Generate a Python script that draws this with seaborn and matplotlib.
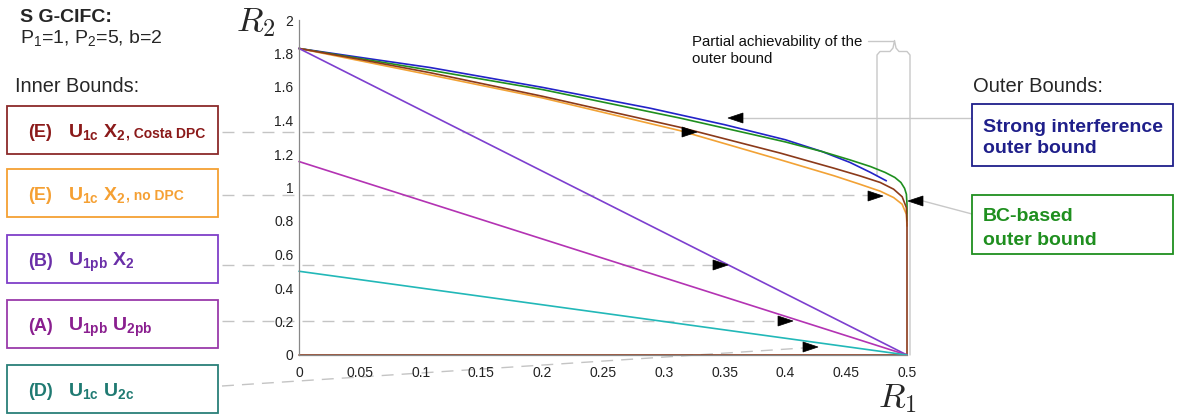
import numpy as np
import pandas as pd
import matplotlib
matplotlib.use("Agg")
import matplotlib.pyplot as plt
import seaborn as sns
from matplotlib.lines import Line2D
from matplotlib.patches import Rectangle, Polygon

# ---------------- data ----------------
r1_strong = [0, 0.05, 0.108, 0.2, 0.289, 0.35, 0.4, 0.43, 0.453, 0.47, 0.483]
r2_strong = [1.83, 1.777, 1.716, 1.598, 1.473, 1.375, 1.285, 1.215, 1.15, 1.09, 1.04]

r1_bc = [0, 0.05, 0.108, 0.2, 0.313, 0.371, 0.4, 0.43, 0.453, 0.47, 0.482, 0.49, 0.495, 0.498, 0.4995, 0.5, 0.5]
r2_bc = [1.83, 1.77, 1.70, 1.585, 1.415, 1.32, 1.272, 1.215, 1.165, 1.125, 1.09, 1.06, 1.03, 0.995, 0.96, 0.90, 0.80]

r1_costa = [0, 0.05, 0.108, 0.2, 0.313, 0.396, 0.44, 0.461, 0.478, 0.489, 0.496, 0.4995, 0.5, 0.5, 0]
r2_costa = [1.83, 1.765, 1.685, 1.545, 1.36, 1.205, 1.115, 1.07, 1.03, 0.99, 0.945, 0.88, 0.786, 0, 0]

r1_nodpc = [0, 0.05, 0.108, 0.2, 0.313, 0.396, 0.44, 0.461, 0.478, 0.489, 0.496, 0.4995, 0.5]
r2_nodpc = [1.83, 1.757, 1.672, 1.535, 1.34, 1.165, 1.07, 1.02, 0.978, 0.94, 0.9, 0.84, 0.77]

r1_B = [0, 0.5]
r2_B = [1.83, 0]
r1_A = [0, 0.5]
r2_A = [1.155, 0]
r1_D = [0, 0.5]
r2_D = [0.5, 0]

x_ticks = [0, 0.05, 0.1, 0.15, 0.2, 0.25, 0.3, 0.35, 0.4, 0.45, 0.5]
x_ticklabels = ["0", "0.05", "0.1", "0.15", "0.2", "0.25", "0.3", "0.35", "0.4", "0.45", "0.5"]
y_ticks = [0, 0.2, 0.4, 0.6, 0.8, 1.0, 1.2, 1.4, 1.6, 1.8, 2.0]
y_ticklabels = ["0", "0.2", "0.4", "0.6", "0.8", "1", "1.2", "1.4", "1.6", "1.8", "2"]

# ---------------- style ----------------
sns.set_style("white")
plt.rcParams['font.family'] = ['Liberation Sans', 'DejaVu Sans']
plt.rcParams['mathtext.fontset'] = 'custom'
plt.rcParams['mathtext.rm'] = 'Liberation Sans'
plt.rcParams['mathtext.it'] = 'Liberation Sans:italic'
plt.rcParams['mathtext.bf'] = 'Liberation Sans:bold'

W, H = 1180, 417
fig = plt.figure(figsize=(W / 100, H / 100), dpi=100)


def P(x, y):
    return (x / W, 1 - y / H)


ax = fig.add_axes([299 / W, 1 - 355 / H, 608 / W, 335 / H])

col_blue = "#2323c8"
col_green = "#1f8f1f"
col_brown = "#8b3a1a"
col_orange = "#f2a235"
col_B = "#7d3fcf"
col_A = "#b333b3"
col_D = "#22b8b8"

lw = 1.2
sns.lineplot(x=r1_strong, y=r2_strong, sort=False, estimator=None, color=col_blue, lw=lw, ax=ax)
sns.lineplot(x=r1_bc, y=r2_bc, sort=False, estimator=None, color=col_green, lw=lw, ax=ax)
sns.lineplot(x=r1_nodpc, y=r2_nodpc, sort=False, estimator=None, color=col_orange, lw=lw, ax=ax)
sns.lineplot(x=r1_costa, y=r2_costa, sort=False, estimator=None, color=col_brown, lw=lw, ax=ax)
sns.lineplot(x=r1_B, y=r2_B, sort=False, estimator=None, color=col_B, lw=lw, ax=ax)
sns.lineplot(x=r1_A, y=r2_A, sort=False, estimator=None, color=col_A, lw=lw, ax=ax)
sns.lineplot(x=r1_D, y=r2_D, sort=False, estimator=None, color=col_D, lw=lw, ax=ax)
for l in ax.lines:
    l.set_clip_on(False)

ax.set_xlim(0, 0.5)
ax.set_ylim(0, 2)
ax.set_xticks(x_ticks)
ax.set_xticklabels(x_ticklabels)
ax.set_yticks(y_ticks)
ax.set_yticklabels(y_ticklabels)
ax.tick_params(direction='in', length=5, width=0.8, color='#888888', labelcolor='#222222',
               labelsize=10)
ax.tick_params(axis='x', pad=8)
ax.tick_params(axis='y', pad=4)
ax.tick_params(axis='both', which='both', top=False, right=False)
for s in ['top', 'right']:
    ax.spines[s].set_visible(False)
for s in ['left', 'bottom']:
    ax.spines[s].set_color('#888888')
    ax.spines[s].set_linewidth(0.9)
ax.set_xlabel("")
ax.set_ylabel("")
ax.set_facecolor('none')

# axis labels (LaTeX-like)
fig.text(*P(236, 31), r"$R_2$", fontsize=25, math_fontfamily='cm', va='baseline', ha='left')
fig.text(*P(878, 407), r"$R_1$", fontsize=25, math_fontfamily='cm', va='baseline', ha='left')

# header texts
fig.text(*P(20, 22), "S G-CIFC:", fontsize=14, fontweight='bold', va='baseline')
fig.text(*P(20, 43), r"P$_1$=1, P$_2$=5, b=2", fontsize=14, va='baseline')
fig.text(*P(15, 92), "Inner Bounds:", fontsize=14.3, va='baseline')
fig.text(*P(973, 92), "Outer Bounds:", fontsize=14.5, va='baseline')


# helper drawing in pixel space
def fline(xs, ys, **kw):
    pts = [P(x, y) for x, y in zip(xs, ys)]
    fig.add_artist(Line2D([p[0] for p in pts], [p[1] for p in pts], transform=fig.transFigure, **kw))


def frect(x0, y0, x1, y1, ec):
    p = P(x0, y1)
    fig.add_artist(Rectangle(p, (x1 - x0) / W, (y1 - y0) / H, transform=fig.transFigure,
                             fill=True, fc='white', ec=ec, lw=1.3))


def farrow(tipx, tipy, direction):
    if direction == 'right':
        pts = [(tipx, tipy), (tipx - 15, tipy - 5), (tipx - 15, tipy + 5)]
    else:
        pts = [(tipx, tipy), (tipx + 15, tipy - 5), (tipx + 15, tipy + 5)]
    fig.add_artist(Polygon([P(*q) for q in pts], closed=True, transform=fig.transFigure,
                           fc='black', ec='black', lw=0.5, zorder=10))


dash_kw = dict(color='#c4c4c4', lw=1.0, ls=(0, (8.6, 5.8)), zorder=0)
solid_kw = dict(color='#c8c8c8', lw=1.0, zorder=0)

# left boxes: (tag, math text, suffix, colour, edge colour, top y)
boxes = [
    ("(E)", r"$\mathbf{U_{1c}\ X_2}$", ", Costa DPC", "#8b1a1a", "#8b2a2a", 106),
    ("(E)", r"$\mathbf{U_{1c}\ X_2}$", ", no DPC", "#f5a033", "#f5a033", 169),
    ("(B)", r"$\mathbf{U_{1pb}\ X_2}$", "", "#6a2fa8", "#7f3fc8", 235),
    ("(A)", r"$\mathbf{U_{1pb}\ U_{2pb}}$", "", "#8a1f8f", "#9a3aaa", 300),
    ("(D)", r"$\mathbf{U_{1c}\ U_{2c}}$", "", "#1f7a72", "#2a7f78", 365),
]
for tag, mt, suf, tc, ec, top in boxes:
    frect(7, top, 218, top + 48, ec)
    base = top + 31
    fig.text(*P(28, base), tag, fontsize=13, fontweight='bold', color=tc, va='baseline')
    fig.text(*P(68, base), mt, fontsize=14, color=tc, va='baseline')
    if suf:
        fig.text(*P(126, base), suf, fontsize=10, fontweight='bold', color=tc, va='baseline')

# connectors from left boxes
fline([222, 683], [132, 132], **dash_kw)
fline([222, 868], [195, 195], **dash_kw)
fline([222, 713], [265, 265], **dash_kw)
fline([222, 778], [321, 321], **dash_kw)
fline([222, 803], [386, 348], **dash_kw)
farrow(697, 132, 'right')
farrow(883, 196, 'right')
farrow(728, 265, 'right')
farrow(793, 321, 'right')
farrow(818, 347, 'right')

# right boxes
frect(972, 104, 1173, 166, "#1f1f8a")
fig.text(*P(983, 132), "Strong interference", fontsize=14, fontweight='bold', color="#1f1f8a", va='baseline')
fig.text(*P(983, 153), "outer bound", fontsize=14, fontweight='bold', color="#1f1f8a", va='baseline')
frect(972, 195, 1173, 254, "#1f8f1f")
fig.text(*P(983, 221), "BC-based", fontsize=14, fontweight='bold', color="#1f8f1f", va='baseline')
fig.text(*P(983, 245), "outer bound", fontsize=14, fontweight='bold', color="#1f8f1f", va='baseline')

fline([972, 742], [118, 118], **solid_kw)
farrow(728, 118, 'left')
fline([972, 923], [214, 201], **solid_kw)
farrow(908, 201, 'left')

# partial achievability annotation with brace
fig.text(*P(692, 46), "Partial achievability of the", fontsize=10.8, va='baseline', color='#111111')
fig.text(*P(692, 63), "outer bound", fontsize=10.8, va='baseline', color='#111111')
fline([868, 893], [40.5, 40.5], **solid_kw)
brace_x = [877, 877, 880, 890, 893, 894.5, 896, 899, 907, 910, 910]
brace_y = [176, 55, 51.5, 51.5, 48, 40.5, 48, 51.5, 51.5, 55, 355]
fline(brace_x, brace_y, **solid_kw)

fig.savefig("out.png", dpi=100)
